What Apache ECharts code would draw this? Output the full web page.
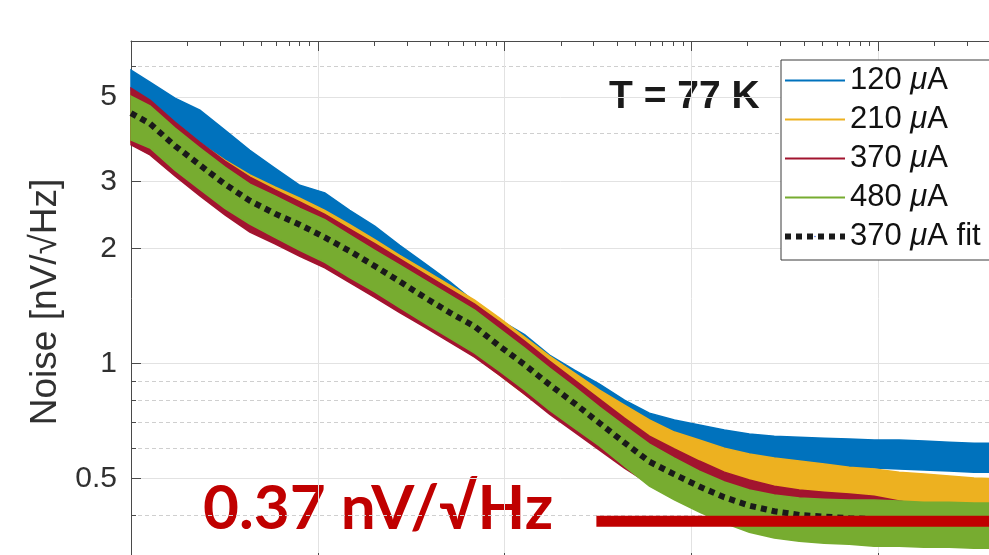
<!DOCTYPE html>
<html>
<head>
<meta charset="utf-8">
<script src="https://cdn.jsdelivr.net/npm/echarts@6/dist/echarts.min.js"></script>
<style>
  html, body { margin: 0; padding: 0; background: #fff; }
  #chart { width: 989px; height: 555px; }
</style>
</head>
<body>
<div id="chart"></div>
<script>
// frequency points (Hz, log axis)
var freqs = [1, 1.264, 1.719, 2.339, 3.182, 4.329, 5.890, 8.012, 10.90, 14.83, 20.17, 27.45,
  37.34, 50.80, 69.11, 94.03, 127.9, 174.0, 236.8, 322.1, 438.2, 596.2, 811.1, 1103,
  1501, 2043, 2779, 3781, 5144, 6999, 9520, 12950, 17620, 23970, 32610, 44360];

// noise band (upper / lower envelope, nV/sqrt(Hz)) for each bias current
var blueHi = [5.87, 5.46, 4.96, 4.61, 4.09, 3.62, 3.25, 2.93, 2.80, 2.52, 2.29, 2.04,
  1.83, 1.64, 1.45, 1.30, 1.19, 1.052, 0.961, 0.883, 0.802, 0.741, 0.711, 0.690,
  0.669, 0.653, 0.645, 0.641, 0.637, 0.634, 0.630, 0.630, 0.626, 0.622, 0.618, 0.618];
var blueLo = [4.21, 3.97, 3.58, 3.21, 2.88, 2.62, 2.43, 2.26, 2.11, 1.92, 1.757, 1.605,
  1.466, 1.331, 1.209, 1.084, 0.984, 0.878, 0.802, 0.732, 0.677, 0.630, 0.604, 0.586,
  0.565, 0.551, 0.545, 0.542, 0.538, 0.535, 0.532, 0.529, 0.526, 0.523, 0.519, 0.519];
var yellowHi = [5.14, 4.81, 4.24, 3.78, 3.41, 3.12, 2.90, 2.71, 2.52, 2.31, 2.11, 1.92,
  1.757, 1.605, 1.466, 1.315, 1.173, 1.046, 0.944, 0.852, 0.778, 0.711, 0.661, 0.630,
  0.600, 0.579, 0.565, 0.555, 0.545, 0.535, 0.529, 0.519, 0.513, 0.507, 0.501, 0.498];
var yellowLo = [3.80, 3.58, 3.17, 2.81, 2.51, 2.29, 2.13, 1.98, 1.84, 1.67, 1.52, 1.38,
  1.261, 1.152, 1.046, 0.932, 0.831, 0.746, 0.677, 0.630, 0.586, 0.558, 0.535, 0.516,
  0.495, 0.477, 0.469, 0.460, 0.452, 0.444, 0.439, 0.431, 0.425, 0.420, 0.415, 0.413];
var redHi = [5.27, 4.90, 4.29, 3.80, 3.39, 3.08, 2.85, 2.65, 2.46, 2.25, 2.06, 1.88,
  1.715, 1.567, 1.431, 1.284, 1.145, 1.015, 0.905, 0.807, 0.719, 0.645, 0.597, 0.555,
  0.519, 0.495, 0.477, 0.466, 0.460, 0.455, 0.449, 0.436, 0.425, 0.418, 0.413, 0.410];
var redLo = [3.74, 3.52, 3.10, 2.75, 2.45, 2.21, 2.06, 1.91, 1.78, 1.63, 1.49, 1.36,
  1.246, 1.138, 1.039, 0.932, 0.831, 0.737, 0.661, 0.593, 0.532, 0.483, 0.449, 0.423,
  0.403, 0.389, 0.379, 0.375, 0.373, 0.370, 0.368, 0.366, 0.364, 0.361, 0.361, 0.359];
var greenHi = [5.02, 4.73, 4.14, 3.67, 3.27, 2.95, 2.75, 2.55, 2.38, 2.17, 1.98, 1.81,
  1.654, 1.511, 1.380, 1.231, 1.098, 0.973, 0.867, 0.769, 0.686, 0.615, 0.565, 0.522,
  0.489, 0.466, 0.452, 0.444, 0.441, 0.439, 0.439, 0.436, 0.433, 0.433, 0.431, 0.431];
var greenLo = [3.85, 3.67, 3.21, 2.86, 2.55, 2.32, 2.14, 1.98, 1.84, 1.68, 1.54, 1.40,
  1.276, 1.166, 1.065, 0.955, 0.852, 0.755, 0.677, 0.608, 0.538, 0.477, 0.439, 0.408,
  0.382, 0.361, 0.349, 0.342, 0.338, 0.336, 0.332, 0.332, 0.330, 0.330, 0.328, 0.328];
// 370 uA fit
var fitNoise = [4.53, 4.25, 3.72, 3.31, 2.95, 2.67, 2.47, 2.31, 2.14, 1.97, 1.80, 1.64,
  1.49, 1.36, 1.25, 1.11, 0.993, 0.880, 0.786, 0.698, 0.620, 0.553, 0.512, 0.476,
  0.446, 0.424, 0.410, 0.401, 0.397, 0.393, 0.391, 0.390, 0.389, 0.389, 0.388, 0.388];

// white-noise floor marker
var floorLevel = 0.386;
var floorFrom = 310;
var floorTo = 100000;

// y ticks
var yMajor = [0.5, 1, 2, 3, 5];
var yMinor = [0.4, 0.6, 0.7, 0.8, 0.9, 4, 6];
var xMinor = [];
for (var d = 1; d <= 10000; d *= 10) {
  for (var m = 2; m <= 9; m++) xMinor.push(m * d);
}

var chart = echarts.init(document.getElementById('chart'));

function band(name, color, hi, lo) {
  return {
    name: name,
    type: 'custom',
    xAxisIndex: 0,
    yAxisIndex: 0,
    itemStyle: {color: color},
    data: freqs.map(function (f, i) { return [f, lo[i], hi[i]]; }),
    encode: {x: 0, y: [1, 2]},
    renderItem: function (params, api) {
      if (params.dataIndex !== 0) return null;
      var pts = [];
      for (var i = 0; i < freqs.length; i++) pts.push(api.coord([freqs[i], hi[i]]));
      for (var j = freqs.length - 1; j >= 0; j--) pts.push(api.coord([freqs[j], lo[j]]));
      return {type: 'polygon', shape: {points: pts}, style: {fill: color, stroke: color, lineWidth: 1.5}};
    }
  };
}

var axisColor = '#4a4a4a';
var font = '"Liberation Sans", Arial, sans-serif';

chart.setOption({
  animation: false,
  grid: {left: 131, top: 41, width: 934, height: 522, outerBoundsMode: 'none', containLabel: false},
  xAxis: [{
    type: 'log', logBase: 10, min: 1, max: 100000, position: 'bottom',
    axisLine: {lineStyle: {color: axisColor}},
    axisTick: {inside: true, length: 10, lineStyle: {color: axisColor}},
    axisLabel: {show: false},
    splitLine: {show: true, lineStyle: {color: '#e2e2e2', width: 1}}
  }, {
    type: 'log', logBase: 10, min: 1, max: 100000, position: 'top',
    axisLine: {lineStyle: {color: axisColor}},
    axisTick: {inside: true, length: 10, lineStyle: {color: axisColor}},
    axisLabel: {show: false},
    splitLine: {show: false}
  }, {
    type: 'log', logBase: 10, min: 1, max: 100000, position: 'top',
    axisLine: {show: false},
    axisTick: {inside: true, length: 5, customValues: xMinor, lineStyle: {color: axisColor}},
    axisLabel: {show: false},
    splitLine: {show: false}
  }],
  yAxis: [{
    type: 'log', logBase: 10, min: 0.3, max: 7,
    name: 'Noise [nV/\u221AHz]',
    nameLocation: 'middle',
    nameGap: 66,
    nameTextStyle: {fontSize: 37, color: '#303030', fontFamily: font},
    axisLine: {show: true, lineStyle: {color: axisColor}},
    axisTick: {inside: true, length: 10, customValues: yMajor, lineStyle: {color: axisColor}},
    axisLabel: {
      customValues: yMajor, fontSize: 30, color: '#303030', fontFamily: font, margin: 14,
      formatter: function (v) { return String(v); }
    },
    splitLine: {show: true, lineStyle: {color: '#e2e2e2', width: 1}}
  }, {
    type: 'log', logBase: 10, min: 0.3, max: 7, position: 'left',
    axisLine: {show: false},
    axisTick: {inside: true, length: 5, customValues: yMinor, lineStyle: {color: axisColor}},
    axisLabel: {show: false},
    splitLine: {show: true, lineStyle: {color: '#cfcfcf', width: 1, type: [4, 3]}}
  }],
  legend: {
    orient: 'vertical',
    left: 781, top: 60,
    padding: [5, 40, 8, 1],
    itemWidth: 60, itemHeight: 2, itemGap: 8,
    borderColor: '#3a3a3a', borderWidth: 1,
    backgroundColor: '#fff',
    selectedMode: false,
    textStyle: {
      fontSize: 31, color: '#111', fontFamily: font,
      rich: {i: {fontSize: 31, fontStyle: 'italic', color: '#111', fontFamily: font}}
    },
    formatter: function (n) { return n.replace('\u03BC', '{i|\u03BC}'); },
    data: [
      {name: '120 \u03BCA', icon: 'rect'},
      {name: '210 \u03BCA', icon: 'rect'},
      {name: '370 \u03BCA', icon: 'rect'},
      {name: '480 \u03BCA', icon: 'rect'},
      {name: '370 \u03BCA fit', lineStyle: {width: 6, type: [6, 5], cap: 'butt'}}
    ]
  },
  graphic: [{
    type: 'text', x: 609, y: 97,
    style: {text: 'T = 77 K', font: 'bold 39px ' + font, fill: '#1a1a1a', verticalAlign: 'middle'}
  }, {
    type: 'text', x: 203, y: 509,
    style: {text: '0.37 nV/\u221AHz', font: 'bold 62px Lato, sans-serif', fill: '#C00000', verticalAlign: 'middle'}
  }],
  series: [
    band('120 \u03BCA', '#0072BD', blueHi, blueLo),
    band('210 \u03BCA', '#EDB120', yellowHi, yellowLo),
    band('370 \u03BCA', '#A2142F', redHi, redLo),
    band('480 \u03BCA', '#77AC30', greenHi, greenLo),
    {
      name: '370 \u03BCA fit', type: 'line', symbol: 'none',
      data: freqs.map(function (f, i) { return [f, fitNoise[i]]; }),
      lineStyle: {color: '#1a1a1a', width: 6, type: [6, 5], cap: 'butt'}
    },
    {
      name: 'floor', type: 'line', symbol: 'none', silent: true,
      data: [[floorFrom, floorLevel], [floorTo, floorLevel]],
      lineStyle: {color: '#C00000', width: 11}
    }
  ]
});
</script>
</body>
</html>
